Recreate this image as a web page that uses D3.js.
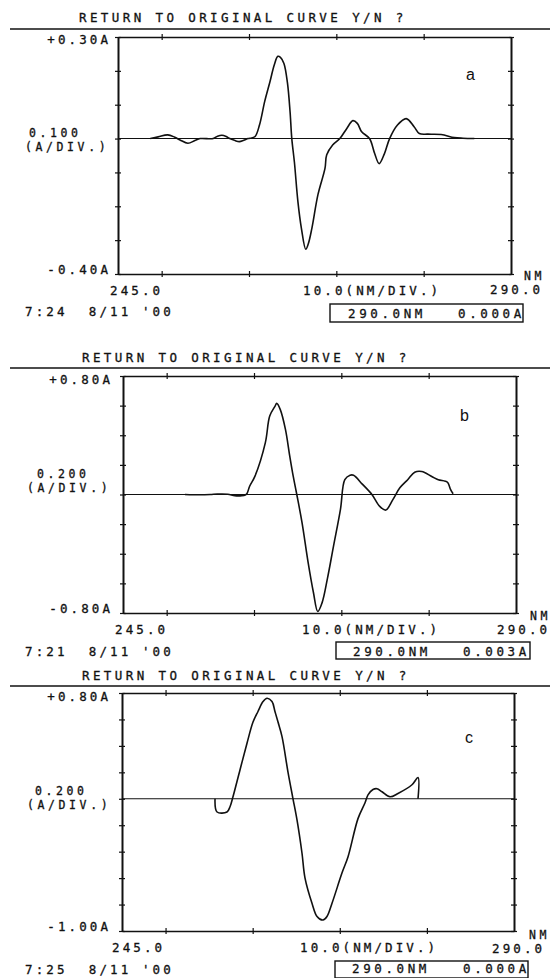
<!doctype html>
<html lang="en">
<head>
<meta charset="utf-8">
<title>Derivative spectra a, b, c</title>
<script src="https://cdn.jsdelivr.net/npm/d3@7"></script>
<style>
  body { margin: 0; background: #fff; }
  svg text { font-family: "DejaVu Sans Mono", monospace; font-size: 12.5px; fill: #111; stroke: #111; stroke-width: 0.3px;
             letter-spacing: 3.1px; white-space: pre; }
  svg text.title { letter-spacing: 3.4px; }
  svg text.box { letter-spacing: 3.6px; }
  svg text.small { font-size: 11.5px; letter-spacing: 3.6px; }
  svg text.hand { font-family: "Liberation Sans", sans-serif; font-size: 16px; letter-spacing: 0; stroke-width: 0; }
</style>
</head>
<body>
<svg></svg>
<script>
    var width = 550;
    var height = 978;

    // wavelength axis (nm), same for all three traces
    var nmMin = 245.0;
    var nmMax = 290.0;
    var nmTicks = [250, 260, 270, 280];

    var panelNames = ["a", "b", "c"];
    var titleText = "RETURN TO ORIGINAL CURVE Y/N ?";
    var yMax = [0.30, 0.80, 0.80];
    var yMin = [-0.40, -0.80, -1.00];
    var yStep = [0.1, 0.2, 0.2];
    var yTopLabels = ["+0.30A", "+0.80A", "+0.80A"];
    var yBottomLabels = ["-0.40A", "-0.80A", "-1.00A"];
    var yDivLabels = ["0.100", "0.200", "0.200"];
    var timeLabels = ["7:24  8/11 '00", "7:21  8/11 '00", "7:25  8/11 '00"];
    var cursorNm = ["290.0NM", "290.0NM", "290.0NM"];
    var cursorA = ["0.000A", "0.003A", "0.000A"];

    // [nm, A]
    var traceA = [[248.7,0],[249.6,0.005],[250.7,0.011],[251.5,0.004],[252.1,-0.004],[253.0,-0.014],[253.8,-0.006],
        [254.4,0],[255.9,0],[256.4,0.007],[256.9,0.010],[257.4,0.006],[257.8,0],[258.4,-0.006],[258.9,-0.009],
        [259.4,-0.005],[259.9,0],[260.3,0.002],[260.7,0.006],[261.2,0.040],[261.8,0.110],[262.4,0.168],
        [262.9,0.218],[263.3,0.243],[263.6,0.240],[264.0,0.222],[264.4,0.165],[264.7,0.080],[264.9,0.000],
        [265.2,-0.070],[265.6,-0.186],[266.0,-0.265],[266.5,-0.327],[266.8,-0.310],[267.2,-0.265],[267.9,-0.165],
        [268.7,-0.088],[268.9,-0.048],[269.6,-0.018],[270.4,0.000],[271.2,0.030],[271.9,0.053],[272.4,0.045],
        [272.9,0.020],[273.8,0.000],[274.4,-0.045],[274.9,-0.074],[275.5,-0.045],[276.1,0.000],[277.0,0.040],
        [278.0,0.059],[278.9,0.035],[279.5,0.015],[280.5,0.013],[282.0,0.012],[283.5,0.003],[284.5,0.001],
        [285.8,0.000]];

    var traceB = [[252.1,0],[253.8,-0.002],[255.0,0],[255.8,0.003],[257.0,0.002],[257.8,-0.008],[258.6,-0.008],
        [259.0,-0.003],[259.2,0.007],[259.5,0.056],[260.1,0.122],[261.3,0.35],[261.8,0.53],[262.4,0.595],
        [262.6,0.615],[263.0,0.575],[263.6,0.44],[264.1,0.257],[264.5,0.12],[264.9,0],[265.5,-0.19],[266.2,-0.46],
        [266.8,-0.66],[267.3,-0.79],[267.8,-0.73],[268.4,-0.57],[269.1,-0.35],[269.9,-0.10],[270.4,0.10],
        [271.0,0.13],[271.4,0.13],[272.4,0.07],[273.5,0],[274.4,-0.08],[275.1,-0.105],[275.9,-0.035],
        [276.7,0.045],[277.6,0.10],[278.4,0.15],[279.2,0.155],[280.4,0.12],[281.1,0.10],[281.9,0.09],
        [282.2,0.08],[282.5,0.035],[282.8,0.005]];

    var traceC = [[255.68,0],[255.91,-0.10],[257.05,-0.10],[257.40,-0.06],[257.74,0.015],[258.55,0.22],[259.35,0.42],
        [260.04,0.58],[260.61,0.66],[261.19,0.735],[261.65,0.76],[262.22,0.735],[262.56,0.66],[262.91,0.58],
        [263.37,0.47],[264.06,0.20],[264.63,0],[265.09,-0.16],[265.66,-0.41],[266.01,-0.60],[266.81,-0.79],
        [267.39,-0.89],[268.07,-0.917],[268.53,-0.89],[269.11,-0.79],[270.26,-0.56],[270.94,-0.44],[272.09,-0.15],
        [272.90,-0.03],[273.24,0.03],[273.81,0.07],[274.27,0.076],[274.85,0.053],[275.77,0.015],[276.68,0.04],
        [278.29,0.106],[278.98,0.16],[278.98,0]];

    var traces = [traceA, traceB, traceC];

    // where each panel sits on the page
    var layout = [
        { l: 118, r: 511, t: 37, b: 274, titleX: 79, titleY: 22, ruleY: 29, topY: 44, labR: 108,
          divX: [29, 25], divY: [137, 151], botY: 295, x245: 110, xMid: 303, nmX: 524, nmY: 280, x290: 490, x290Y: 294,
          timeY: 316, box: [330, 304, 193, 18], boxT: [348, 458], boxY: 318, hand: [466, 80] },
        { l: 123, r: 516, t: 376, b: 613, titleX: 82, titleY: 362, ruleY: 368, topY: 384, labR: 110,
          divX: [37, 27], divY: [478, 492], botY: 634, x245: 115, xMid: 302, nmX: 530, nmY: 620, x290: 497, x290Y: 634,
          timeY: 656, box: [336, 642, 194, 17], boxT: [353, 463], boxY: 656, hand: [460, 421] },
        { l: 122, r: 514, t: 693, b: 931, titleX: 82, titleY: 680, ruleY: 686, topY: 701, labR: 108,
          divX: [35, 27], divY: [795, 809], botY: 952, x245: 112, xMid: 300, nmX: 529, nmY: 939, x290: 492, x290Y: 953,
          timeY: 974, box: [335, 961, 193, 17], boxT: [352, 463], boxY: 973, hand: [465, 743] }
    ];

    var svg = d3.select('svg').attr('width', width).attr('height', height);

    function label(g, txt, x, y, anchor, cls) {
        return g.append('text')
            .attr('class', cls || null)
            .attr('x', x).attr('y', y)
            .attr('text-anchor', anchor || 'start')
            .text(txt);
    }

    panelNames.forEach(function (name, i) {
        var L = layout[i];
        var g = svg.append('g').attr('id', 'panel-' + name);

        var xScale = d3.scaleLinear().domain([nmMin, nmMax]).range([L.l, L.r]);
        var yScale = d3.scaleLinear().domain([yMin[i], yMax[i]]).range([L.b, L.t]);
        var yTicks = d3.range(Math.round((yMax[i] - yMin[i]) / yStep[i]) + 1)
            .map(function (k) { return yMin[i] + k * yStep[i]; });

        // header line and prompt
        label(g, titleText, L.titleX, L.titleY, 'start', 'title');
        g.append('line')
            .attr('x1', 10).attr('x2', width)
            .attr('y1', L.ruleY).attr('y2', L.ruleY)
            .attr('stroke', '#111').attr('stroke-width', 1.3);

        // zero line
        g.append('line')
            .attr('x1', L.l).attr('x2', L.r)
            .attr('y1', yScale(0)).attr('y2', yScale(0))
            .attr('stroke', '#111').attr('stroke-width', 1.1);

        // frame axes, ticks drawn through the axis line
        var axes = [
            { ax: d3.axisLeft(yScale).tickValues(yTicks), tr: 'translate(' + L.l + ',0)', horiz: false },
            { ax: d3.axisRight(yScale).tickValues(yTicks), tr: 'translate(' + L.r + ',0)', horiz: false },
            { ax: d3.axisTop(xScale).tickValues(nmTicks), tr: 'translate(0,' + L.t + ')', horiz: true },
            { ax: d3.axisBottom(xScale).tickValues(nmTicks), tr: 'translate(0,' + L.b + ')', horiz: true }
        ];
        axes.forEach(function (a) {
            var ag = g.append('g')
                .attr('transform', a.tr)
                .call(a.ax.tickSize(3).tickSizeOuter(0).tickFormat(''));
            ag.select('.domain').attr('stroke', '#111').attr('stroke-width', a.horiz ? 1.6 : 2);
            ag.selectAll('.tick line').attr('stroke', '#111').attr('stroke-width', 1.2);
            if (a.horiz) ag.selectAll('.tick line').attr('y1', function () { return -d3.select(this).attr('y2'); });
            else ag.selectAll('.tick line').attr('x1', function () { return -d3.select(this).attr('x2'); });
        });

        // trace
        var line = d3.line()
            .x(function (d) { return xScale(d[0]); })
            .y(function (d) { return yScale(d[1]); })
            .curve(d3.curveCatmullRom.alpha(0.5));
        g.append('path')
            .datum(traces[i])
            .attr('d', line)
            .attr('fill', 'none')
            .attr('stroke', '#111')
            .attr('stroke-width', 1.6)
            .attr('stroke-linejoin', 'round');

        // y labels
        label(g, yTopLabels[i], L.labR + 3.1, L.topY, 'end');
        label(g, yBottomLabels[i], L.labR + 3.1, L.b, 'end');
        label(g, yDivLabels[i], L.divX[0], L.divY[0], 'start', 'small');
        label(g, '(A/DIV.)', L.divX[1], L.divY[1], 'start', 'small');

        // x labels
        label(g, nmMin.toFixed(1), L.x245, L.botY);
        label(g, '10.0(NM/DIV.)', L.xMid, L.botY);
        label(g, 'NM', L.nmX, L.nmY, 'start', 'small');
        label(g, nmMax.toFixed(1), L.x290, L.x290Y);

        // date / cursor readout
        label(g, timeLabels[i], 25, L.timeY);
        g.append('rect')
            .attr('x', L.box[0]).attr('y', L.box[1])
            .attr('width', L.box[2]).attr('height', L.box[3])
            .attr('fill', 'none').attr('stroke', '#111').attr('stroke-width', 1.4);
        label(g, cursorNm[i], L.boxT[0], L.boxY, 'start', 'box');
        label(g, cursorA[i], L.boxT[1], L.boxY, 'start', 'box');

        // handwritten panel letter
        label(g, name, L.hand[0], L.hand[1], 'start', 'hand');
    });
</script>
</body>
</html>
